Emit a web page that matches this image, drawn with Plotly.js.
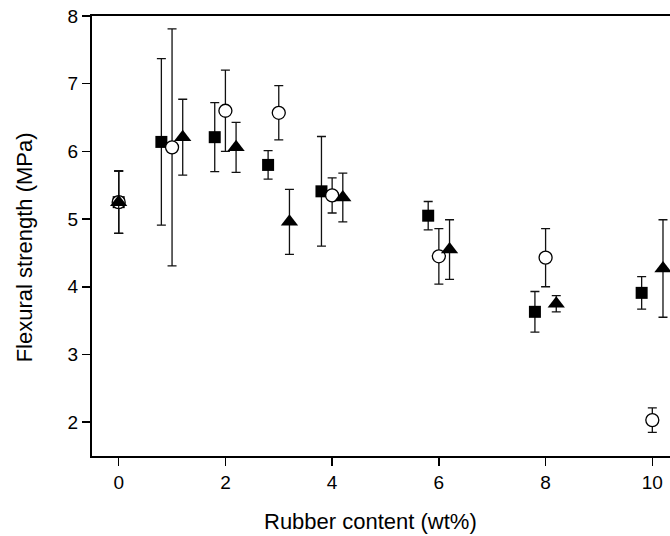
<!DOCTYPE html>
<html>
<head>
<meta charset="utf-8">
<script src="https://cdn.plot.ly/plotly-3.0.1.min.js"></script>
<style>
html,body{margin:0;padding:0;overflow:hidden;background:#fff;}
#chart{width:700px;height:536px;}
</style>
</head>
<body>
<div id="chart"></div>
<script>
// Data
const squareX = [0, 0.8, 1.8, 2.8, 3.8, 5.8, 7.8, 9.8];
const squareY = [5.25, 6.14, 6.21, 5.80, 5.41, 5.05, 3.63, 3.91];
const squareErr = [0.46, 1.23, 0.51, 0.21, 0.81, 0.21, 0.30, 0.24];

const circleX = [0, 1, 2, 3, 4, 6, 8, 10];
const circleY = [5.25, 6.06, 6.60, 6.57, 5.35, 4.45, 4.43, 2.03];
const circleErr = [0.46, 1.75, 0.60, 0.40, 0.26, 0.41, 0.43, 0.18];

const triangleX = [0, 1.2, 2.2, 3.2, 4.2, 6.2, 8.2, 10.2];
const triangleY = [5.25, 6.21, 6.06, 4.96, 5.32, 4.55, 3.75, 4.27];
const triangleErr = [0.46, 0.56, 0.37, 0.48, 0.36, 0.44, 0.12, 0.72];

const xTicks = [0, 2, 4, 6, 8, 10];
const yTicks = [2, 3, 4, 5, 6, 7, 8];
const xTitle = 'Rubber content (wt%)';
const yTitle = 'Flexural strength (MPa)';

const errStyle = (arr) => ({type: 'data', array: arr, visible: true, color: '#111', thickness: 1.3, width: 4.5});

const traces = [
  {x: squareX, y: squareY, error_y: errStyle(squareErr), type: 'scatter', mode: 'markers',
   marker: {symbol: 'square', size: 12, color: '#000', line: {width: 0}}},
  {x: circleX, y: circleY, error_y: errStyle(circleErr), type: 'scatter', mode: 'markers',
   marker: {symbol: 'circle', size: 13, color: '#fff', line: {width: 1.3, color: '#000'}}},
  {x: triangleX, y: triangleY, error_y: errStyle(triangleErr), type: 'scatter', mode: 'markers',
   marker: {symbol: 'triangle-up', size: 15, color: '#000', line: {width: 0}}}
];

const fontFam = '"Liberation Sans", Arial, sans-serif';

const layout = {
  width: 700, height: 536,
  margin: {l: 92, r: 21, t: 16, b: 80},
  paper_bgcolor: '#fff', plot_bgcolor: '#fff',
  showlegend: false,
  font: {family: fontFam, size: 19, color: '#000'},
  xaxis: {
    range: [-0.5, 10.5], tickvals: xTicks, ticktext: xTicks.map(String),
    showgrid: false, zeroline: false, showline: true, linecolor: '#000', linewidth: 2,
    mirror: true, ticks: 'outside', ticklen: 8, tickwidth: 1.5, tickcolor: '#000',
    tickfont: {size: 19, family: fontFam}
  },
  yaxis: {
    range: [1.5, 8], tickvals: yTicks, ticktext: yTicks.map(String),
    showgrid: false, zeroline: false, showline: true, linecolor: '#000', linewidth: 2,
    mirror: true, ticks: 'outside', ticklen: 8, tickwidth: 1.5, tickcolor: '#000',
    tickfont: {size: 19, family: fontFam}
  },
  annotations: [
    {text: xTitle, xref: 'paper', yref: 'paper', x: 0.4736, y: -0.149,
     xanchor: 'center', yanchor: 'middle', showarrow: false, font: {size: 22, family: fontFam, color: '#000'}},
    {text: yTitle, xref: 'paper', yref: 'paper', x: -0.1153, y: 0.475, textangle: -90,
     xanchor: 'center', yanchor: 'middle', showarrow: false, font: {size: 22, family: fontFam, color: '#000'}}
  ]
};

Plotly.newPlot('chart', traces, layout, {displayModeBar: false, staticPlot: true});
</script>
</body>
</html>
